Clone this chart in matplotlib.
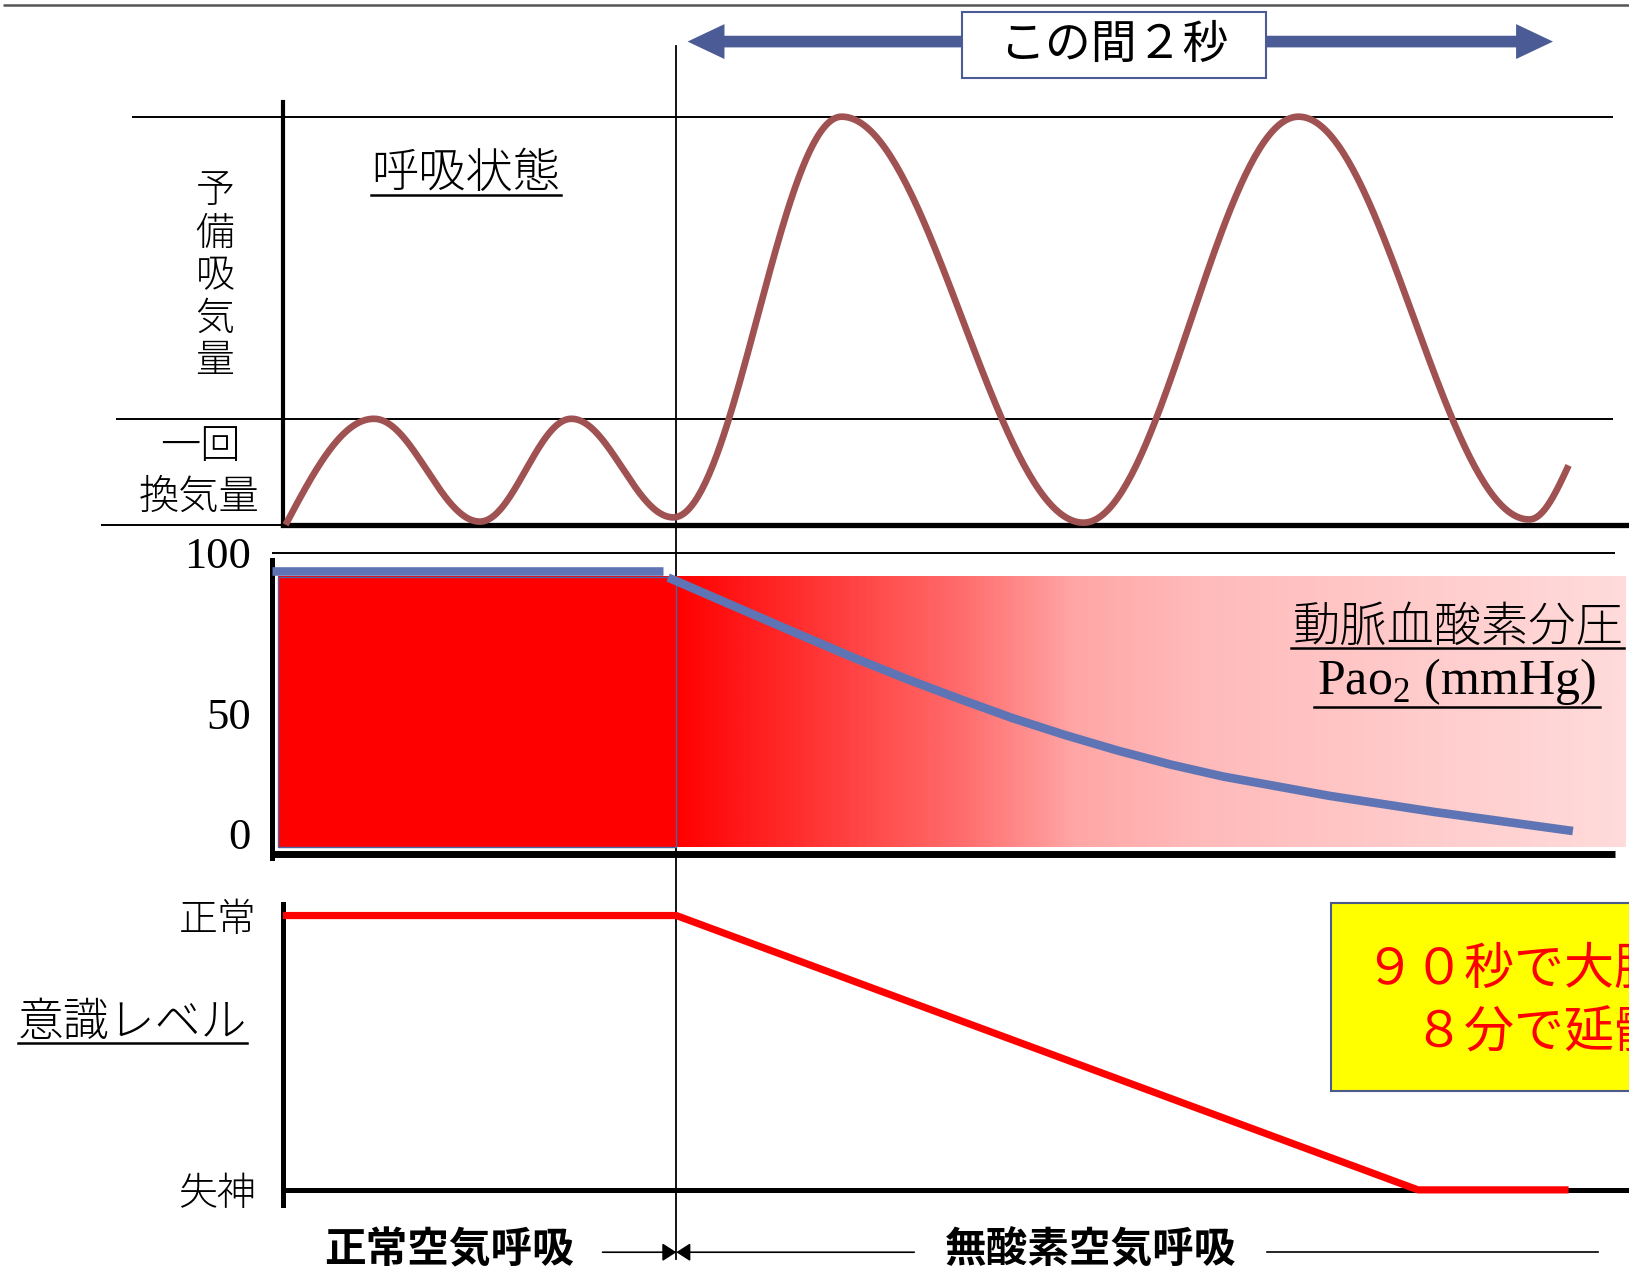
import numpy as np
import matplotlib
matplotlib.use("Agg")
import matplotlib.pyplot as plt
from matplotlib.colors import LinearSegmentedColormap
from matplotlib.patches import Rectangle, Polygon
from matplotlib.transforms import ScaledTranslation

plt.rcParams['font.family'] = ['Noto Sans CJK JP', 'DejaVu Sans']

# ---------------- data ----------------
# Breathing trace: turning points (time in s, volume in mL)
BREATH_T = [-0.903, -0.699, -0.454, -0.2425, -0.007, 0.382, 0.941, 1.438, 1.971, 2.062]
BREATH_V = [0, 500, 15, 500, 35, 1925, 10, 1925, 25, 280]
TIDAL_VOLUME = 500
DEEP_VOLUME = 1925

# Arterial oxygen tension (mmHg)
PAO2_NORMAL_T = [-0.934, -0.031]
PAO2_NORMAL = [93.8, 93.8]
PAO2_T = [-0.019, 0.286, 0.408, 0.531, 0.653, 0.776, 0.897, 1.020, 1.141,
          1.263, 1.508, 1.753, 2.072]
PAO2 = [91.8, 72.8, 65.3, 58.2, 51.6, 45.2, 39.6, 34.4, 29.8, 25.8, 19.4, 14.0, 7.7]
PAO2_TICKS = [0, 50, 100]
PAO2_TICK_LABELS = ["0", "50", "100"]
FILL_BOTTOM, FILL_TOP = 2.5, 92.1

# Level of consciousness (1 = normal, 0 = syncope)
LOC_T = [-0.91, 0.0, 1.714, 2.062]
LOC = [1, 1, 0, 0]
LOC_TICKS = [0, 1]
LOC_TICK_LABELS = ["失神", "正常"]

ONSET_T = 0.0
SPAN_T = [0.026, 2.026]
SPAN_LABEL = "この間２秒"
PHASE_LABELS = ["正常空気呼吸", "無酸素空気呼吸"]
NOTE_LINES = ["９０秒で大脳死", "　８分で延髄死"]

# ---------------- layout helpers ----------------
W, H = 1568.0, 1225.0           # layout grid
T0_U, U_PER_S = 651.0, 416.5    # grid position of t = 0 and grid units per second


def fx(u):
    return u / W


def fy(v):
    return 1.0 - v / H


def t_of(u):
    return (u - T0_U) / U_PER_S


def u_of(t):
    return T0_U + t * U_PER_S


def smooth_trace(ts, vs, n=90):
    """Join turning points with eased segments so the trace reads as a breath."""
    xs, ys = [], []
    last = len(ts) - 2
    for i in range(len(ts) - 1):
        s = np.linspace(0, 1, n)
        if i == 0:
            w = np.sin(np.pi * s / 2)
        elif i == last:
            w = 1 - np.cos(np.pi * s / 2)
        else:
            w = (1 - np.cos(np.pi * s)) / 2
        xs.append(ts[i] + (ts[i + 1] - ts[i]) * s)
        ys.append(vs[i] + (vs[i + 1] - vs[i]) * w)
    return np.concatenate(xs), np.concatenate(ys)


BREATH_C = '#a05252'
PAO2_C = '#5f74b4'
ARROW_C = '#4a5b95'
MINCHO = dict(fontweight='light')

fig = plt.figure(figsize=(16.29, 12.73), dpi=100)

base = fig.add_axes([0, 0, 1, 1], zorder=0)
ov = fig.add_axes([0, 0, 1, 1], zorder=5)
for a in (base, ov):
    a.set_xlim(0, W)
    a.set_ylim(H, 0)
    a.axis('off')
ov.patch.set_visible(False)


def panel(left, right, top, bottom):
    ax = fig.add_axes([fx(left), fy(bottom), fx(right) - fx(left), fy(top) - fy(bottom)],
                      zorder=2)
    ax.patch.set_visible(False)
    for s in ax.spines.values():
        s.set_visible(False)
    ax.set_xticks([])
    ax.set_yticks([])
    return ax


# frame line along the top
ov.plot([3, W], [4.8, 4.8], color='#555555', lw=1.8, solid_capstyle='butt')

# onset of anoxic breathing
base.plot([u_of(ONSET_T)] * 2, [44, 1212], color='black', lw=1.3)

# ---------------- panel 1: breathing ----------------
ax1 = panel(272, 1568, 98, 505)
ax1.set_xlim(t_of(272), t_of(1568))
ax1.set_ylim(0, 1995)
ax1.spines['left'].set_visible(True)
ax1.spines['left'].set_linewidth(3.0)
ax1.spines['bottom'].set_visible(True)
ax1.spines['bottom'].set_linewidth(3.8)
ax1.hlines(DEEP_VOLUME, t_of(127), t_of(1553), color='black', lw=1.4, clip_on=False)
ax1.hlines(TIDAL_VOLUME, t_of(112), t_of(1553), color='black', lw=1.4, clip_on=False)
ax1.hlines(0, t_of(97), t_of(272), color='black', lw=1.4, clip_on=False)
bx, by = smooth_trace(BREATH_T, BREATH_V)
ax1.plot(bx, by, color=BREATH_C, lw=4.8, solid_capstyle='butt', zorder=3, clip_on=False)

ov.text(448, 167, "呼吸状態", fontsize=34, ha='center', va='center', **MINCHO)
ov.plot([357, 540], [188, 188], color='black', lw=1.8)
for i, ch in enumerate("予備吸気量"):
    ov.text(207, 184 + 41 * i, ch, fontsize=28, ha='center', va='center', **MINCHO)
ov.text(193, 430, "一回", fontsize=29, ha='center', va='center', **MINCHO)
ov.text(192, 479, "換気量", fontsize=29, ha='center', va='center', **MINCHO)

# ---------------- panel 2: PaO2 ----------------
ax2 = panel(262, 1568, 525, 825.5)
fill_l, fill_r = t_of(268), t_of(1565)
grad = LinearSegmentedColormap.from_list(
    'o2', [(0.0, '#ff0000'), (0.30, '#ff6c6c'), (0.42, '#ffa6a6'), (0.55, '#ffbaba'),
           (1.0, '#ffdbdb')])
cols = np.linspace(fill_l, fill_r, 1200)
frac = np.clip(cols / fill_r, 0, 1)
ax2.imshow(grad(frac)[None, :, :], extent=(fill_l, fill_r, FILL_BOTTOM, FILL_TOP),
           aspect='auto', interpolation='bilinear', zorder=1)
ax2.add_patch(Rectangle((fill_l, FILL_BOTTOM), ONSET_T - fill_l, FILL_TOP - FILL_BOTTOM,
                        fill=False, edgecolor='#4a64a8', lw=1.0, zorder=1.5))
ax2.set_xlim(t_of(262), t_of(1568))
ax2.set_ylim(-1.2, 102.4)
ax2.spines['left'].set_visible(True)
ax2.spines['left'].set_linewidth(3.6)
ax2.spines['left'].set_bounds(-1.2, 97.6)
ax2.hlines(100, t_of(262), t_of(1555), color='black', lw=1.4, clip_on=False)
ax2.hlines(0, t_of(262), t_of(1555), color='black', lw=5.0, clip_on=False)
ax2.plot(PAO2_NORMAL_T, PAO2_NORMAL, color=PAO2_C, lw=6.2, solid_capstyle='butt', zorder=3)
ax2.plot(PAO2_T, PAO2, color=PAO2_C, lw=6.2, solid_capstyle='butt', zorder=3)
ax2.set_yticks(PAO2_TICKS)
ax2.set_yticklabels(PAO2_TICK_LABELS, fontfamily='Liberation Serif', fontsize=32)
ax2.set_yticks([50], minor=True)
ax2.tick_params(axis='y', which='major', length=0, pad=15.5)
ax2.tick_params(axis='y', which='minor', length=5, width=1.2, direction='in')
for lab, dy in zip(ax2.get_yticklabels(), [15.0, -7.5, 0.0]):
    lab.set_transform(lab.get_transform() + ScaledTranslation(0, dy / 72, fig.dpi_scale_trans))

ov.text(1563, 604, "動脈血酸素分圧", fontsize=34, ha='right', va='center', **MINCHO)
ov.plot([1243, 1563], [624, 624], color='black', lw=1.8)
ov.text(1402, 656, r"Pao$_\mathregular{2}$ (mmHg)", fontsize=36, ha='center', va='center',
        fontfamily='Liberation Serif')
ov.plot([1265, 1540], [680, 680], color='black', lw=1.8)

# ---------------- panel 3: consciousness ----------------
ax3 = panel(272, 1568, 870, 1160)
ax3.set_xlim(t_of(272), t_of(1568))
ax3.set_ylim(-0.0568, 1.0417)
ax3.spines['left'].set_visible(True)
ax3.spines['left'].set_linewidth(3.6)
ax3.hlines(0, t_of(272), t_of(1568), color='black', lw=3.6)
ax3.plot(LOC_T, LOC, color='#ff0000', lw=5.2, solid_capstyle='butt', zorder=3)
ax3.set_yticks(LOC_TICKS)
ax3.set_yticklabels(LOC_TICK_LABELS, fontsize=28, fontweight='light')
ax3.tick_params(axis='y', length=0, pad=19)

ov.text(127, 985, "意識レベル", fontsize=33, ha='center', va='center', **MINCHO)
ov.plot([17, 238], [1004, 1004], color='black', lw=1.8)

# note box (runs off the right edge of the sheet)
ov.add_patch(Rectangle((1281, 869), 400, 181, facecolor='#ffff00', edgecolor='#4a5a8a',
                       lw=1.5, zorder=3))
ov.text(1313, 933, NOTE_LINES[0], fontsize=36, color='#ff0000', ha='left', va='center',
        zorder=4)
ov.text(1313, 995, NOTE_LINES[1], fontsize=36, color='#ff0000', ha='left', va='center',
        zorder=4)

# ---------------- 2-second span arrow ----------------
xa, xb = u_of(SPAN_T[0]), u_of(SPAN_T[1])
yc, half_shaft, half_head, head_len = 40.0, 5.6, 16.8, 35.5
ov.add_patch(Polygon([
    (xa, yc), (xa + head_len, yc - half_head), (xa + head_len, yc - half_shaft),
    (xb - head_len, yc - half_shaft), (xb - head_len, yc - half_head), (xb, yc),
    (xb - head_len, yc + half_head), (xb - head_len, yc + half_shaft),
    (xa + head_len, yc + half_shaft), (xa + head_len, yc + half_head)],
    closed=True, facecolor=ARROW_C, edgecolor='none', zorder=2))
ov.add_patch(Rectangle((926, 12), 293, 63, facecolor='white', edgecolor=ARROW_C, lw=1.5,
                       zorder=3))
ov.text(1072, 43, SPAN_LABEL, fontsize=33, ha='center', va='center', zorder=4)

# ---------------- phase labels ----------------
yb = 1205
ov.text(432, 1203, PHASE_LABELS[0], fontsize=30, fontweight='bold', ha='center', va='center')
ov.text(1050, 1203, PHASE_LABELS[1], fontsize=30, fontweight='bold', ha='center', va='center')
xo = u_of(ONSET_T)
arrow_kw = dict(arrowstyle='-|>,head_length=0.42,head_width=0.27', color='black', lw=1.2,
                mutation_scale=20, shrinkA=0, shrinkB=0)
ov.annotate("", xy=(xo, yb), xytext=(580, yb), arrowprops=arrow_kw)
ov.annotate("", xy=(xo, yb), xytext=(880, yb), arrowprops=arrow_kw)
ov.plot([1220, 1538], [yb, yb], color='black', lw=1.2)

fig.savefig("out.png", dpi=100)
